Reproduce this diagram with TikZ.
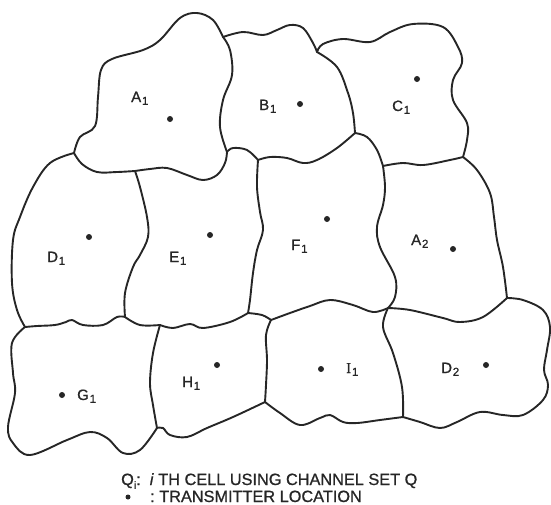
\documentclass[tikz,border=0pt]{standalone}
\usepackage{fontspec}
\setmainfont{Liberation Sans}
\newfontfamily\lblfont[FakeBold=0.9]{Liberation Sans}
\newfontfamily\serifI[FakeBold=0.9]{Liberation Serif}
\newcommand\cellname[2]{#1\kern0.8pt\raisebox{-0.35ex}{\fontsize{11.5}{11.5}\selectfont #2}}
\begin{document}
\begin{tikzpicture}[x=1pt,y=-1pt,
  bd/.style={draw=black!85, line width=1.9pt, line join=round, line cap=round},
  tx/.style={circle, fill=black!85, inner sep=0pt, minimum size=6pt},
  lab/.style={font=\lblfont\fontsize{15}{16}\selectfont, inner sep=0pt, anchor=base west, text=black!85},
  leg/.style={font=\lblfont\fontsize{16.3}{17}\selectfont, inner sep=0pt, anchor=base west, text=black!85}]
\useasboundingbox (0,0) rectangle (551,504);
% junctions
\coordinate (J1) at (74,153);
\coordinate (J2) at (135,171);
\coordinate (J3) at (227,152);
\coordinate (J4) at (258,160);
\coordinate (J5) at (355,133);
\coordinate (J6) at (223,37);
\coordinate (J7) at (317,52);
\coordinate (J8) at (463,157);
\coordinate (J9) at (383,166);
\coordinate (J10) at (25,327);
\coordinate (J11) at (125,317);
\coordinate (J12) at (160,325);
\coordinate (J13) at (248,313);
\coordinate (J19) at (271,320);
\coordinate (J15) at (388,308);
\coordinate (J16) at (507,298);
\coordinate (J14) at (265,402);
\coordinate (J17) at (403,417);
\coordinate (J18) at (157,428);
% boundaries
\draw[bd] plot[smooth,tension=0.6] coordinates {(J1) (80,137) (95,126) (98,97) (101,70) (112,59) (143,50) (160,40) (180,18) (197,13) (213,20) (J6)};
\draw[bd] plot[smooth,tension=0.6] coordinates {(J6) (230,50) (232,75) (223,100) (220,127) (J3)};
\draw[bd] plot[smooth,tension=0.6] coordinates {(J1) (82,164) (97,172) (117,172) (J2)};
\draw[bd] plot[smooth,tension=0.6] coordinates {(J2) (150,169) (167,168) (187,175) (203,180) (217,175) (225,163) (J3)};
\draw[bd] plot[smooth,tension=0.6] coordinates {(J3) (233,148) (247,150) (J4)};
\draw[bd] plot[smooth,tension=0.6] coordinates {(J4) (270,157) (287,158) (303,163) (317,160) (337,148) (J5)};
\draw[bd] plot[smooth,tension=0.6] coordinates {(J6) (243,32) (263,35) (277,30) (290,25) (303,28) (313,43) (J7)};
\draw[bd] plot[smooth,tension=0.6] coordinates {(J7) (337,67) (348,93) (353,113) (J5)};
\draw[bd] plot[smooth,tension=0.6] coordinates {(J7) (323,44) (343,39) (370,42) (390,32) (413,24) (443,27) (458,47) (462,63) (453,80) (453,100) (467,123) (467,140) (J8)};
\draw[bd] plot[smooth,tension=0.6] coordinates {(J5) (367,137) (377,150) (J9)};
\draw[bd] plot[smooth,tension=0.6] coordinates {(J9) (403,163) (423,165) (450,160) (J8)};
\draw[bd] plot[smooth,tension=0.6] coordinates {(J8) (477,170) (490,193) (494,217) (497,240) (503,267) (J16)};
\draw[bd] plot[smooth,tension=0.6] coordinates {(J9) (385,187) (383,205) (377,227) (380,247) (395,277) (395,297) (J15)};
\draw[bd] plot[smooth,tension=0.6] coordinates {(J1) (50,163) (33,187) (20,217) (13,240) (12,283) (17,310) (J10)};
\draw[bd] plot[smooth,tension=0.6] coordinates {(J2) (140,187) (147,217) (148,237) (140,255) (133,267) (125,293) (J11)};
\draw[bd] plot[smooth,tension=0.6] coordinates {(J10) (37,326) (55,325) (66,322) (72,320) (83,325) (103,325) (117,317) (J11)};
\draw[bd] plot[smooth,tension=0.6] coordinates {(J11) (140,325) (J12)};
\draw[bd] plot[smooth,tension=0.6] coordinates {(J12) (173,328) (190,324) (203,328) (230,322) (J13)};
\draw[bd] plot[smooth,tension=0.6] coordinates {(J4) (257,187) (260,212) (263,230) (257,250) (253,273) (250,300) (J13)};
\draw[bd] plot[smooth,tension=0.6] coordinates {(J13) (262,315) (J19)};
\draw[bd] plot[smooth,tension=0.6] coordinates {(J19) (290,313) (310,306) (330,300) (353,305) (373,312) (J15)};
\draw[bd] plot[smooth,tension=0.6] coordinates {(J15) (410,310) (443,318) (460,322) (483,317) (J16)};
\draw[bd] plot[smooth,tension=0.6] coordinates {(J15) (383,327) (393,353) (402,387) (J17)};
\draw[bd] plot[smooth,tension=0.6] coordinates {(J19) (266,335) (267,360) (266,385) (J14)};
\draw[bd] plot[smooth,tension=0.6] coordinates {(J16) (523,300) (543,310) (550,327) (547,350) (544,370) (548,385) (543,400) (523,415) (503,415) (480,412) (457,422) (440,428) (420,422) (J17)};
\draw[bd] plot[smooth,tension=0.6] coordinates {(J14) (280,413) (300,425) (320,418) (330,415) (343,422) (357,423) (380,420) (J17)};
\draw[bd] plot[smooth,tension=0.6] coordinates {(J18) (163,428) (170,435) (187,437) (207,428) (233,417) (J14)};
\draw[bd] plot[smooth,tension=0.6] coordinates {(J12) (153,353) (150,383) (153,405) (J18)};
\draw[bd] plot[smooth,tension=0.6] coordinates {(J10) (12,343) (13,373) (15,393) (8,427) (13,443) (30,455) (67,440) (90,432) (107,438) (123,453) (140,450) (J18)};
% transmitters
\node[tx] (tA1) at (170,119) {};
\node[tx] (tB1) at (300,104) {};
\node[tx] (tC1) at (417,79) {};
\node[tx] (tD1) at (89,237) {};
\node[tx] (tE1) at (210,235) {};
\node[tx] (tF1) at (327,219) {};
\node[tx] (tA2) at (453,249) {};
\node[tx] (tG1) at (62,395) {};
\node[tx] (tH1) at (217,365) {};
\node[tx] (tI1) at (321,369) {};
\node[tx] (tD2) at (486,365) {};
% labels
\node[lab] (lA1) at (131,102) {\cellname{A}{1}};
\node[lab] (lB1) at (259,110) {\cellname{B}{1}};
\node[lab] (lC1) at (392,111) {\cellname{C}{1}};
\node[lab] (lD1) at (47,262) {\cellname{D}{1}};
\node[lab] (lE1) at (169,262) {\cellname{E}{1}};
\node[lab] (lF1) at (291,250) {\cellname{F}{1}};
\node[lab] (lA2) at (411,245) {\cellname{A}{2}};
\node[lab] (lG1) at (77,400) {\cellname{G}{1}};
\node[lab] (lH1) at (182,387) {\cellname{H}{1}};
\node[lab] (lI1) at (346,373) {\cellname{{\serifI I}}{1}};
\node[lab] (lD2) at (441,373) {\cellname{D}{2}};
% legend
\node[leg] (leg1) at (121,485) {Q\raisebox{-0.45ex}{\fontsize{10.5}{10.5}\selectfont i}:\ \ \textit{i} TH CELL USING CHANNEL SET Q};
\node[tx, minimum size=5pt] (legdot) at (128,497) {};
\node[leg] (leg2) at (150,502) {:\ TRANSMITTER LOCATION};
\end{tikzpicture}
\end{document}
